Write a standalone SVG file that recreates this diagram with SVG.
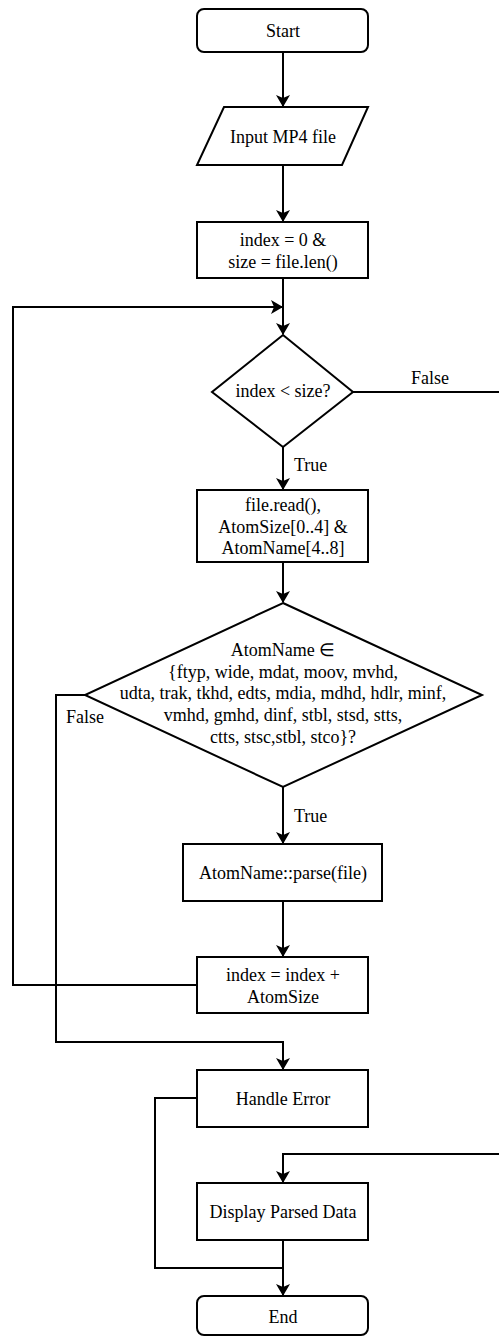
<svg xmlns="http://www.w3.org/2000/svg" width="499" height="1336" viewBox="0 0 499 1336">
  <style>
    .shape { fill: #ffffff; stroke: #000000; stroke-width: 2; }
    .edge { fill: none; stroke: #000000; stroke-width: 2; marker-end: url(#arrow); }
    .line { fill: none; stroke: #000000; stroke-width: 2; }
    text { font-family: "Liberation Serif", "Times New Roman", serif; font-size: 18px; fill: #000000; text-anchor: middle; dominant-baseline: central; }
    .lbl { text-anchor: start; }
  </style>
  <defs>
    <marker id="arrow" viewBox="0 0 12 14" refX="11" refY="7" markerWidth="12" markerHeight="14" markerUnits="userSpaceOnUse" orient="auto">
      <path d="M0,0 L12,7 L0,14 L3,7 z" fill="#000000"/>
    </marker>
  </defs>

  <rect width="499" height="1336" fill="#ffffff"/>

  <!-- connectors -->
  <g id="connectors">
    <path class="edge" d="M283,52 V106"/>
    <path class="edge" d="M283,165 V221"/>
    <path class="edge" d="M283,278 V334"/>
    <path class="edge" d="M197,985 H13 V307 H282"/>
    <path class="edge" d="M283,447 V489"/>
    <path class="edge" d="M283,562 V602"/>
    <path class="edge" d="M283,787 V843"/>
    <path class="edge" d="M283,901 V956"/>
    <path class="edge" d="M85,695 H56 V1042 H283 V1069"/>
    <path class="edge" d="M353,392 H530 V1154 H283 V1182"/>
    <path class="line" d="M197,1098 H155 V1268 H283"/>
    <path class="edge" d="M283,1240 V1295"/>
    <text class="lbl" x="411" y="378">False</text>
    <text class="lbl" x="294" y="465">True</text>
    <text class="lbl" x="66" y="717">False</text>
    <text class="lbl" x="294" y="816">True</text>
  </g>

  <g id="start">
    <rect class="shape" x="197" y="9" width="171" height="43" rx="7"/>
    <text x="283" y="31">Start</text>
  </g>

  <g id="input">
    <polygon class="shape" points="224,107 368,107 342,165 197,165"/>
    <text x="283" y="137">Input MP4 file</text>
  </g>

  <g id="init">
    <rect class="shape" x="197" y="222" width="171" height="56"/>
    <text x="283" y="240">index = 0 &amp;</text>
    <text x="283" y="262">size = file.len()</text>
  </g>

  <g id="check-index">
    <polygon class="shape" points="283,335 353,392 283,447 212,392"/>
    <text x="283" y="391">index &lt; size?</text>
  </g>

  <g id="read-atom">
    <rect class="shape" x="197" y="490" width="171" height="72"/>
    <text x="283" y="505">file.read(),</text>
    <text x="283" y="527">AtomSize[0..4] &amp;</text>
    <text x="283" y="548">AtomName[4..8]</text>
  </g>

  <g id="check-atom">
    <polygon class="shape" points="283,603 482,695 283,787 85,695"/>
    <text x="283" y="650">AtomName ∈</text>
    <text x="283" y="672">{ftyp, wide, mdat, moov, mvhd,</text>
    <text x="283" y="693">udta, trak, tkhd, edts, mdia, mdhd, hdlr, minf,</text>
    <text x="283" y="715">vmhd, gmhd, dinf, stbl,  stsd, stts,</text>
    <text x="283" y="737">ctts, stsc,stbl, stco}?</text>
  </g>

  <g id="parse">
    <rect class="shape" x="183" y="844" width="199" height="57"/>
    <text x="283" y="873">AtomName::parse(file)</text>
  </g>

  <g id="advance">
    <rect class="shape" x="197" y="957" width="171" height="56"/>
    <text x="283" y="975">index = index +</text>
    <text x="283" y="997">AtomSize</text>
  </g>

  <g id="handle-error">
    <rect class="shape" x="197" y="1070" width="171" height="57"/>
    <text x="283" y="1099">Handle Error</text>
  </g>

  <g id="display">
    <rect class="shape" x="197" y="1183" width="171" height="57"/>
    <text x="283" y="1212">Display Parsed Data</text>
  </g>

  <g id="end">
    <rect class="shape" x="197" y="1296" width="171" height="39" rx="7"/>
    <text x="283" y="1317">End</text>
  </g>
</svg>
